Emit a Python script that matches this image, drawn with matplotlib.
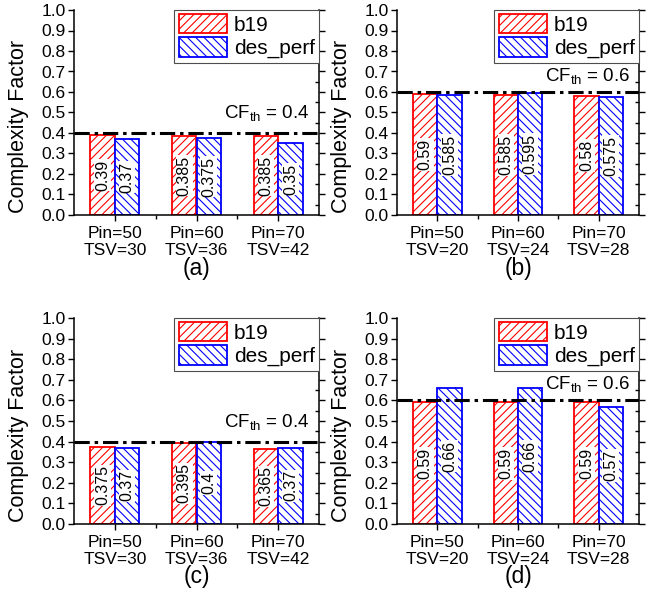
import matplotlib
matplotlib.use("Agg")
import matplotlib.pyplot as plt
import numpy as np

plt.rcParams['font.family'] = ['Liberation Sans', 'DejaVu Sans']
plt.rcParams['mathtext.fontset'] = 'custom'
plt.rcParams['mathtext.rm'] = 'Liberation Sans'
plt.rcParams['mathtext.it'] = 'Liberation Sans:italic'
plt.rcParams['mathtext.bf'] = 'Liberation Sans:bold'
plt.rcParams['hatch.linewidth'] = 0.8
plt.rcParams['lines.scale_dashes'] = False

series_names = ["b19", "des_perf"]
pins = [50, 60, 70]
tsv_ab = [30, 36, 42]
tsv_bd = [20, 24, 28]

b19_a = [0.39, 0.385, 0.385]
des_a = [0.37, 0.375, 0.35]
b19_b = [0.59, 0.585, 0.58]
des_b = [0.585, 0.595, 0.575]
b19_c = [0.375, 0.395, 0.365]
des_c = [0.37, 0.4, 0.37]
b19_d = [0.59, 0.59, 0.59]
des_d = [0.66, 0.66, 0.57]
thresholds = [0.4, 0.6, 0.4, 0.6]
panel_labels = ["(a)", "(b)", "(c)", "(d)"]

panels = [
    (b19_a, des_a, tsv_ab, thresholds[0], panel_labels[0]),
    (b19_b, des_b, tsv_bd, thresholds[1], panel_labels[1]),
    (b19_c, des_c, tsv_ab, thresholds[2], panel_labels[2]),
    (b19_d, des_d, tsv_bd, thresholds[3], panel_labels[3]),
]

W, H = 654, 607
fig = plt.figure(figsize=(W / 100, H / 100), dpi=100)

# axes boxes in pixels: left, right, top, bottom
boxes = [
    (74, 319, 10, 215),
    (397, 639, 10, 215),
    (74, 319, 318, 524),
    (397, 639, 318, 524),
]
cf_text_y = [0.473, 0.654, 0.473, 0.654]

colors = ["#ff0000", "#0000ff"]
hatches = ["////", "\\\\\\\\"]
bw = 0.3

for (b19, des, tsv, th, plabel), (l, r, t, b), ty in zip(panels, boxes, cf_text_y):
    ax = fig.add_axes([l / W, 1 - b / H, (r - l) / W, (b - t) / H])
    x = np.arange(1, len(pins) + 1)
    handles = []
    for k, (vals, off) in enumerate([(b19, -bw / 2), (des, bw / 2)]):
        bars = ax.bar(x + off, vals, width=bw, facecolor="white",
                      edgecolor=colors[k], hatch=hatches[k], linewidth=1.3,
                      label=series_names[k], zorder=2)
        handles.append(bars)
        for xi, v in zip(x + off, vals):
            ax.text(xi, v / 2, f"{v:g}", rotation=90, ha="center", va="center",
                    fontsize=11.5, zorder=4,
                    bbox=dict(boxstyle="square,pad=0.05", facecolor="white",
                              edgecolor="none"))
    ax.axhline(th, color="black", linewidth=2.2, linestyle=(0, (11, 3.5, 2.5, 3.5)),
               zorder=3)
    ax.text(0.962, ty, r"CF$_{\mathrm{th}}$ = " + f"{th:g}", transform=ax.get_yaxis_transform(),
            ha="right", va="baseline", fontsize=13.5)
    ax.set_xlim(0.5, 3.5)
    ax.set_ylim(0, 1.0)
    ax.set_yticks(np.arange(0, 1.01, 0.1))
    ax.set_yticklabels([f"{v:.1f}" for v in np.arange(0, 1.01, 0.1)])
    ax.set_yticks(np.arange(0.05, 1.0, 0.1), minor=True)
    ax.set_xticks(x)
    ax.set_xticklabels([f"Pin={p}\nTSV={s}" for p, s in zip(pins, tsv)],
                       linespacing=1.15)
    ax.set_xticks([1.5, 2.5], minor=True)
    ax.tick_params(axis="both", labelsize=12.5)
    ax.tick_params(axis="y", which="major", direction="out", length=4, width=1,
                   right=True, pad=2)
    ax.tick_params(axis="y", which="minor", left=False, right=True,
                   direction="in", length=3, width=1)
    ax.tick_params(axis="x", which="major", direction="out", length=4, width=1, pad=4)
    ax.tick_params(axis="x", which="minor", direction="out", length=3, width=1)
    ax.spines["top"].set_visible(False)
    for s in ["left", "right", "bottom"]:
        ax.spines[s].set_linewidth(1.1)
    ax.set_ylabel("Complexity Factor", fontsize=15.5)
    ax.yaxis.set_label_coords(-0.184, 0.43)
    leg = ax.legend(handles=handles, loc="upper right", bbox_to_anchor=(1.0, 1.0),
                    borderaxespad=0, fontsize=15, fancybox=False,
                    edgecolor="0.3", framealpha=1, handlelength=2.3,
                    handleheight=1.05, handletextpad=0.35, borderpad=0.2,
                    labelspacing=0.12)
    leg.get_frame().set_linewidth(0.8)
    leg.set_zorder(5)
    fig.text((l + r) / 2 / W, 1 - (b + 53) / H, plabel, ha="center", va="center",
             fontsize=16.5)

fig.savefig("out.png", dpi=100)
